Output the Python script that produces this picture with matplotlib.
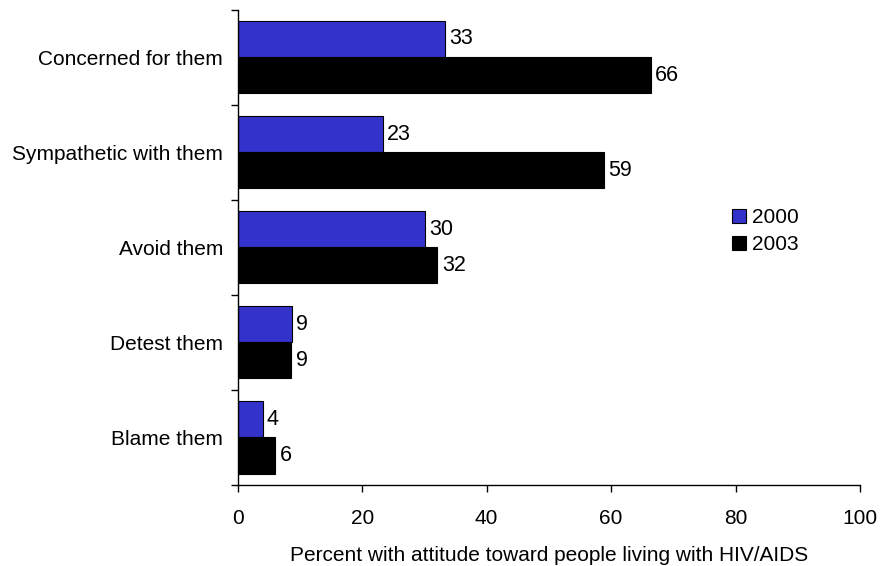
import matplotlib
matplotlib.use("Agg")
import matplotlib.pyplot as plt
import numpy as np

plt.rcParams['font.family'] = ['Liberation Sans', 'DejaVu Sans']

categories = ["Concerned for them", "Sympathetic with them", "Avoid them",
              "Detest them", "Blame them"]
values_2000 = [33.3, 23.3, 30.1, 8.7, 4.0]
values_2003 = [66.4, 58.9, 32.1, 8.6, 6.0]
labels_2000 = ["33", "23", "30", "9", "4"]
labels_2003 = ["66", "59", "32", "9", "6"]
series_names = ["2000", "2003"]
xticks = [0, 20, 40, 60, 80, 100]

fig = plt.figure(figsize=(8.89, 5.66), dpi=100)
ax = fig.add_axes([237.7/889, 1-485/566, (860-237.7)/889, (485-9.5)/566])

y = np.arange(len(categories))
h = 0.38
b1 = ax.barh(y - h/2, values_2000, height=h, color="#3333CC", edgecolor="black",
             linewidth=0.8, label=series_names[0])
b2 = ax.barh(y + h/2, values_2003, height=h, color="black", edgecolor="black",
             linewidth=0.8, label=series_names[1])
for bars, labs in ((b1, labels_2000), (b2, labels_2003)):
    for bar, lab in zip(bars, labs):
        ax.text(bar.get_width() + 0.7, bar.get_y() + bar.get_height()/2, lab,
                va="center", ha="left", fontsize=15.5)

ax.set_xlim(0, 100)
ax.set_ylim(len(categories) - 0.5, -0.5)
ax.set_xticks(xticks)
ax.set_xticklabels([str(t) for t in xticks], fontsize=15)
ax.tick_params(axis="x", length=5, width=1, pad=12, direction="out")

ax.set_yticks(np.arange(len(categories) + 1) - 0.5)
ax.set_yticklabels([])
ax.tick_params(axis="y", which="major", length=5, width=1, direction="out")
ax.set_yticks(y, minor=True)
ax.set_yticklabels(categories, minor=True, fontsize=15)
ax.tick_params(axis="y", which="minor", length=0, pad=10.5)

for s in ("top", "right"):
    ax.spines[s].set_visible(False)
for s in ("left", "bottom"):
    ax.spines[s].set_linewidth(1)

ax.set_xlabel("Percent with attitude toward people living with HIV/AIDS",
              fontsize=15, labelpad=13)

ax.legend(loc="upper left", bbox_to_anchor=(722/889, 1-198/566),
          bbox_transform=fig.transFigure, frameon=False, fontsize=15,
          handlelength=0.65, handleheight=0.65, handletextpad=0.3,
          labelspacing=0.38, borderpad=0)

fig.savefig("out.png", dpi=100)
